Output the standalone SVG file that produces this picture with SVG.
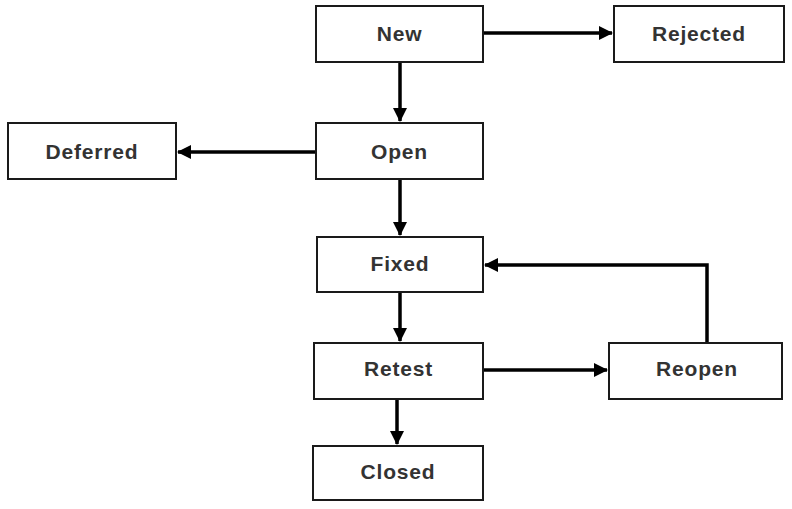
<svg xmlns="http://www.w3.org/2000/svg" width="792" height="509" viewBox="0 0 792 509">
<style>
.box{fill:#fff;stroke:#1a1a1a;stroke-width:2}
.lbl{font-family:"Liberation Sans",Arial,sans-serif;font-weight:bold;font-size:21px;fill:#333;text-anchor:middle;dominant-baseline:central;letter-spacing:0.8px}
.con{fill:none;stroke:#000;stroke-width:3.5}
</style>
<defs>
<marker id="ah" viewBox="0 0 14 14" refX="13" refY="7" markerWidth="14" markerHeight="14" markerUnits="userSpaceOnUse" orient="auto">
<path d="M0,0 L14,7 L0,14 Z" fill="#000"/>
</marker>
</defs>
<rect width="792" height="509" fill="#fff"/>
<g id="connectors">
<path class="con" d="M400,62 V121" marker-end="url(#ah)"/>
<path class="con" d="M483,33 H612" marker-end="url(#ah)"/>
<path class="con" d="M316,152 H178" marker-end="url(#ah)"/>
<path class="con" d="M400,179 V235" marker-end="url(#ah)"/>
<path class="con" d="M400,292 V341" marker-end="url(#ah)"/>
<path class="con" d="M483,370 H607" marker-end="url(#ah)"/>
<path class="con" d="M707,343 V265 H485" marker-end="url(#ah)"/>
<path class="con" d="M397,399 V444" marker-end="url(#ah)"/>
</g>
<g id="new"><rect class="box" x="316" y="6" width="167" height="56"/><text class="lbl" x="399.5" y="33">New</text></g>
<g id="rejected"><rect class="box" x="614" y="6" width="170" height="56"/><text class="lbl" x="699" y="33">Rejected</text></g>
<g id="open"><rect class="box" x="316" y="123" width="167" height="56"/><text class="lbl" x="399.5" y="151">Open</text></g>
<g id="deferred"><rect class="box" x="8" y="123" width="168" height="56"/><text class="lbl" x="92" y="151">Deferred</text></g>
<g id="fixed"><rect class="box" x="317" y="237" width="166" height="55"/><text class="lbl" x="400" y="263">Fixed</text></g>
<g id="retest"><rect class="box" x="314" y="343" width="169" height="56"/><text class="lbl" x="398.5" y="368">Retest</text></g>
<g id="reopen"><rect class="box" x="609" y="343" width="173" height="56"/><text class="lbl" x="697" y="368">Reopen</text></g>
<g id="closed"><rect class="box" x="313" y="446" width="170" height="54"/><text class="lbl" x="398" y="471">Closed</text></g>
</svg>
